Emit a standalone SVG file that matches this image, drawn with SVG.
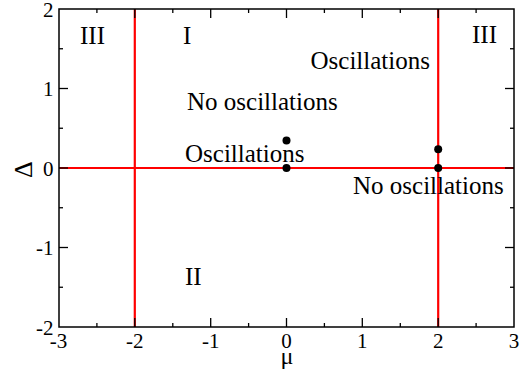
<svg xmlns="http://www.w3.org/2000/svg" width="527" height="377" viewBox="0 0 527 377" font-family="'Liberation Serif', 'Times New Roman', Times, serif">
<style>
text{font-family:'Liberation Serif','Times New Roman',Times,serif;fill:#000}
.tick{font-size:21px}
.lab{font-size:25px}
.ax{stroke:#000;stroke-width:1.5;fill:none}
.tk{stroke:#000;stroke-width:1.3}
.red{stroke:#ff0000;stroke-width:2.2;fill:none}
.dot{fill:#000}
</style>
<rect width="527" height="377" fill="#fff"/>
<g id="boundaries">
<line class="red" x1="59" y1="168" x2="514" y2="168"/>
<line class="red" x1="134.8" y1="9" x2="134.8" y2="327"/>
<line class="red" x1="438.2" y1="9" x2="438.2" y2="327"/>
</g>
<g id="axes">
<rect class="ax" x="59" y="9" width="455" height="318"/>
<g class="tk">
<line x1="134.8" y1="327" x2="134.8" y2="318"/><line x1="210.7" y1="327" x2="210.7" y2="318"/><line x1="286.5" y1="327" x2="286.5" y2="318"/><line x1="362.3" y1="327" x2="362.3" y2="318"/><line x1="438.2" y1="327" x2="438.2" y2="318"/>
<line x1="96.9" y1="327" x2="96.9" y2="323"/><line x1="172.8" y1="327" x2="172.8" y2="323"/><line x1="248.6" y1="327" x2="248.6" y2="323"/><line x1="324.4" y1="327" x2="324.4" y2="323"/><line x1="400.3" y1="327" x2="400.3" y2="323"/><line x1="476.1" y1="327" x2="476.1" y2="323"/>
<line x1="134.8" y1="9" x2="134.8" y2="18"/><line x1="210.7" y1="9" x2="210.7" y2="18"/><line x1="286.5" y1="9" x2="286.5" y2="18"/><line x1="362.3" y1="9" x2="362.3" y2="18"/><line x1="438.2" y1="9" x2="438.2" y2="18"/>
<line x1="96.9" y1="9" x2="96.9" y2="13"/><line x1="172.8" y1="9" x2="172.8" y2="13"/><line x1="248.6" y1="9" x2="248.6" y2="13"/><line x1="324.4" y1="9" x2="324.4" y2="13"/><line x1="400.3" y1="9" x2="400.3" y2="13"/><line x1="476.1" y1="9" x2="476.1" y2="13"/>
<line x1="59" y1="88.5" x2="68" y2="88.5"/><line x1="59" y1="168" x2="68" y2="168"/><line x1="59" y1="247.5" x2="68" y2="247.5"/>
<line x1="59" y1="48.75" x2="63" y2="48.75"/><line x1="59" y1="128.25" x2="63" y2="128.25"/><line x1="59" y1="207.75" x2="63" y2="207.75"/><line x1="59" y1="287.25" x2="63" y2="287.25"/>
<line x1="514" y1="88.5" x2="505" y2="88.5"/><line x1="514" y1="168" x2="505" y2="168"/><line x1="514" y1="247.5" x2="505" y2="247.5"/>
<line x1="514" y1="48.75" x2="510" y2="48.75"/><line x1="514" y1="128.25" x2="510" y2="128.25"/><line x1="514" y1="207.75" x2="510" y2="207.75"/><line x1="514" y1="287.25" x2="510" y2="287.25"/>
</g>
<g class="tick" text-anchor="middle">
<text x="58.5" y="347.5">-3</text><text x="134.8" y="347.5">-2</text><text x="210.7" y="347.5">-1</text><text x="286.5" y="347.5">0</text><text x="362.3" y="347.5">1</text><text x="438.2" y="347.5">2</text><text x="514" y="347.5">3</text>
</g>
<g class="tick" text-anchor="end">
<text x="53.5" y="16.5">2</text><text x="53.5" y="96">1</text><text x="53.5" y="175.5">0</text><text x="53.5" y="255">-1</text><text x="53.5" y="334.5">-2</text>
</g>
<text x="287" y="364" font-size="24" text-anchor="middle">μ</text>
<text x="32" y="169.5" font-size="26" text-anchor="middle" transform="rotate(-90 32 169.5)">Δ</text>
</g>
<g id="region-III-left"><text class="lab" x="80" y="43.5">III</text></g>
<g id="region-I"><text class="lab" x="183" y="43.5">I</text></g>
<g id="region-III-right"><text class="lab" x="472" y="43">III</text></g>
<g id="region-II"><text class="lab" x="185" y="285">II</text></g>
<g id="label-osc-top"><text class="lab" x="310.5" y="69">Oscillations</text></g>
<g id="label-noosc-top"><text class="lab" x="187" y="110">No oscillations</text></g>
<g id="label-osc-mid"><text class="lab" x="185" y="162">Oscillations</text></g>
<g id="label-noosc-right"><text class="lab" x="353" y="194">No oscillations</text></g>
<g id="points">
<circle class="dot" cx="286.5" cy="140.5" r="4"/>
<circle class="dot" cx="286.5" cy="168" r="4"/>
<circle class="dot" cx="438.2" cy="149.3" r="4"/>
<circle class="dot" cx="438.2" cy="168" r="4"/>
</g>
</svg>
